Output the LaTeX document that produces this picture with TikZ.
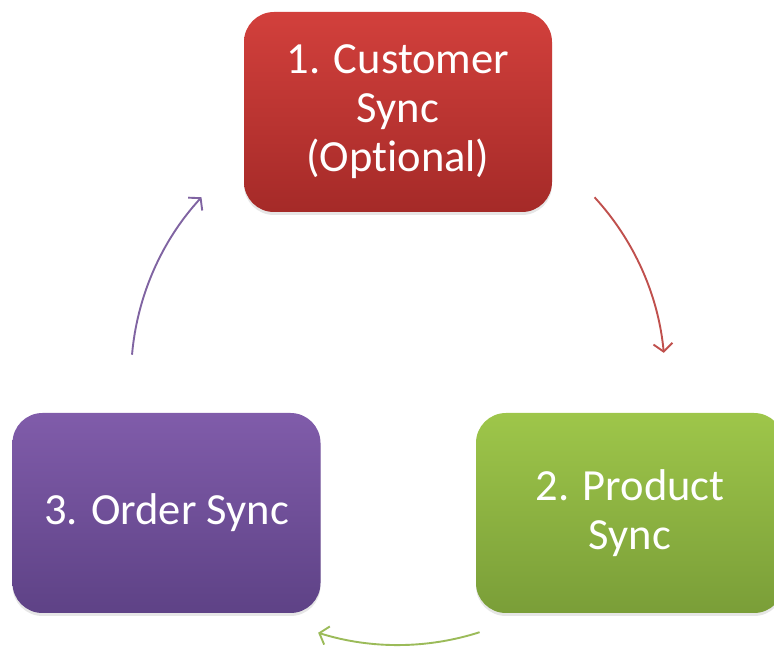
\documentclass[tikz,border=0pt]{standalone}
\usepackage{fontspec}
\setmainfont{Carlito}[Ligatures=NoCommon]
\usetikzlibrary{arrows.meta,shadows}

\definecolor{redtop}{RGB}{210,64,60}
\definecolor{redbot}{RGB}{165,42,40}
\definecolor{greentop}{RGB}{158,198,74}
\definecolor{greenbot}{RGB}{122,158,56}
\definecolor{purptop}{RGB}{128,92,170}
\definecolor{purpbot}{RGB}{94,66,134}
\definecolor{redarrow}{RGB}{192,80,77}
\definecolor{greenarrow}{RGB}{155,187,89}
\definecolor{purparrow}{RGB}{128,100,162}

\begin{document}
\begin{tikzpicture}[x=1pt,y=1pt,>={Straight Barb[length=8pt,width=19pt]},node distance=401pt,
    syncbox/.style={rounded corners=30pt,minimum width=308pt,minimum height=200pt,align=center,text=white,
        font=\fontsize{44.5}{49}\selectfont,drop shadow={opacity=0.2,shadow xshift=0pt,shadow yshift=-3pt}},
    cycle arrow/.style={->,line width=1.9pt}]

    \clip (0,0) rectangle (774,648);

    \node[syncbox, top color=redtop, bottom color=redbot] (1) at (398,536) {1. Customer\\Sync\\(Optional)};
    \node[syncbox, top color=greentop, bottom color=greenbot] (2) [below of = 1, xshift=232pt] {2. Product\\Sync};
    \node[syncbox, top color=purptop, bottom color=purpbot] (3) [below of = 1, xshift=-231.5pt] {3. Order Sync};

    % arcs on one circle round the middle
    \coordinate (c) at (398,270);
    \coordinate (r1) at ([shift={(42.6:267pt)}]c);
    \coordinate (g1) at ([shift={(-72.2:267pt)}]c);
    \coordinate (p1) at ([shift={(175:267pt)}]c);

    \draw[cycle arrow, redarrow] (r1) arc[start angle=42.6, end angle=5.4, radius=267pt];
    \draw[cycle arrow, greenarrow] (g1) arc[start angle=-72.2, end angle=-107.4, radius=267pt];
    \draw[cycle arrow, purparrow] (p1) arc[start angle=175, end angle=137.4, radius=267pt];

\end{tikzpicture}
\end{document}
